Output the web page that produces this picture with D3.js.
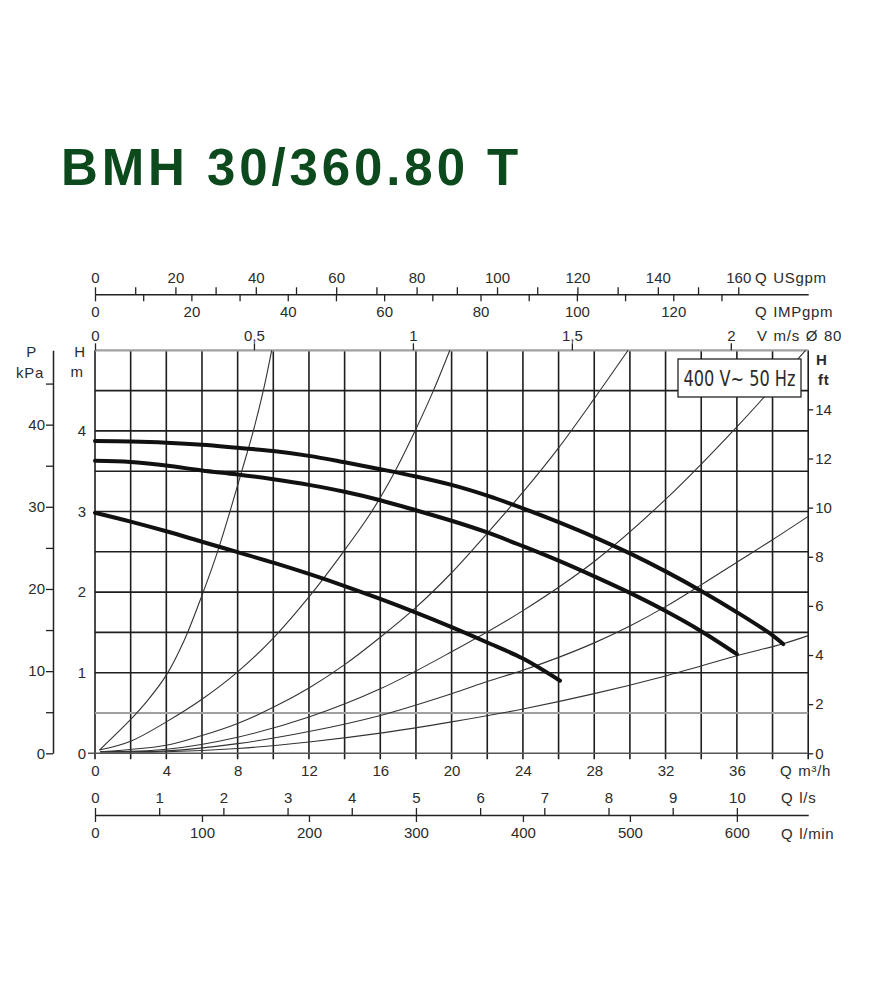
<!DOCTYPE html>
<html lang="en">
<head>
<meta charset="UTF-8">
<title>BMH 30/360.80 T</title>
<script src="https://cdnjs.cloudflare.com/ajax/libs/d3/7.8.5/d3.min.js"></script>
<style>
    body { margin: 0; background: #fff; }
    svg text { font-family: "Liberation Sans", Arial, Helvetica, sans-serif; fill: #2b2b2b; }
</style>
</head>
<body>
<svg id="chart" width="885" height="1000"></svg>
<script>
// Pump curves (Q m3/h, H m)
const speed3 = [[0,3.875],[2,3.868],[4,3.853],[6,3.828],[8,3.79],[10,3.75],[12,3.69],[14,3.61],[16,3.525],
    [18,3.435],[20,3.33],[22,3.197],[24,3.04],[26,2.868],[28,2.683],[30,2.48],[32,2.257],[34,2.014],[36,1.75],[38,1.464],[38.6,1.355]];
const speed2 = [[0,3.63],[2,3.615],[4,3.57],[6,3.51],[8,3.46],[10,3.40],[12,3.33],[14,3.245],[16,3.14],
    [18,3.015],[20,2.885],[22,2.74],[24,2.57],[26,2.39],[28,2.195],[30,1.99],[32,1.765],[34,1.515],[36,1.23]];
const speed1 = [[0,2.985],[2,2.875],[4,2.755],[6,2.625],[8,2.495],[10,2.365],[12,2.225],[14,2.075],[16,1.915],
    [18,1.745],[20,1.565],[22,1.375],[24,1.175],[26.08,0.9]];

// System curves
const system1 = [[0.25,0.04],[2,0.42],[3,0.67],[4,0.97],[5,1.4],[6,1.96],[6.87,2.5],[7.57,3.0],[8.23,3.5],[8.88,4.0],[9.44,4.5],[9.91,5.0]];
const system2 = [[0.25,0.04],[2,0.15],[4,0.39],[6,0.67],[8,1.01],[10,1.43],[12,1.94],[13.93,2.5],[15.52,3.0],[16.83,3.5],
    [17.95,4.0],[18.98,4.5],[19.9,5.0]];
const system3 = [[0.3,0.02],[4,0.1],[6,0.22],[8,0.37],[10,0.57],[12,0.81],[14,1.1],[16,1.44],[18,1.81],[20,2.24],
    [22,2.73],[24,3.24],[26,3.79],[28,4.4],[29.9,5.0]];
const system4 = [[0.3,0.02],[4,0.05],[8,0.2],[12,0.45],[16,0.8],[20,1.26],[24,1.77],[28,2.38],[32,3.15],[36,4.05],[39.85,5.0]];
const system5 = [[0.3,0.02],[4,0.03],[8,0.12],[12,0.27],[16,0.47],[20,0.74],[22,0.89],[24,1.03],[26,1.19],[28,1.37],
    [30,1.58],[32,1.82],[34,2.09],[36,2.37],[38,2.65],[40,2.94]];
const system6 = [[0.3,0.02],[4,0.02],[8,0.06],[12,0.14],[16,0.25],[20,0.39],[24,0.55],[28,0.74],[32,0.96],[36,1.21],[38.6,1.36],[40,1.46]];

// Grid and tick values
const gridQ = [0,2,4,6,8,10,12,14,16,18,20,22,24,26,28,30,32,34,36,38,40];
const gridH = [0,0.5,1,1.5,2,2.5,3,3.5,4,4.5,5];
const greyH = [0.5,5];
const m3hTicks = [0,4,8,12,16,20,24,28,32,36];
const lsTicks = [0,1,2,3,4,5,6,7,8,9,10];
const lminTicks = [0,100,200,300,400,500,600];
const usgpmTicks = [0,10,20,30,40,50,60,70,80,90,100,110,120,130,140,150,160];
const impTicks = [0,10,20,30,40,50,60,70,80,90,100,110,120,130];
const velocityTicks = [0,0.5,1,1.5,2];
const kpaTicks = [0,5,10,15,20,25,30,35,40,45];
const headTicks = [0,1,2,3,4];
const ftTicks = [0,2,4,6,8,10,12,14];

// unit conversions as printed on the sheet
const US_PER_M3H = 4.435, IMP_PER_M3H = 3.70, M3H_PER_MS = 17.83, M3H_PER_LS = 3.6;
const KPA_PER_M = 9.81, M_PER_FT = 0.3048, QMAX = 40, HMAX = 5;

const svg = d3.select("#chart");
svg.append("rect").attr("width", 885).attr("height", 1000).attr("fill", "#fff");

const x = d3.scaleLinear().domain([0, QMAX]).range([95, 808.2]);
const y = d3.scaleLinear().domain([0, HMAX]).range([753.3, 350.3]);

// title
svg.append("text")
    .attr("x", 61).attr("y", 185)
    .attr("font-size", 51).attr("font-weight", "bold")
    .attr("letter-spacing", 3.9)
    .style("fill", "#0c4a1e")
    .text("BMH 30/360.80 T");

// grid
const grid = svg.append("g");
grid.selectAll("line.v").data(gridQ).enter().append("line")
    .attr("x1", d => x(d)).attr("x2", d => x(d))
    .attr("y1", y(HMAX)).attr("y2", y(0) + 6)
    .attr("stroke", "#1e1e1e").attr("stroke-width", 1.6);
grid.selectAll("line.h").data(gridH).enter().append("line")
    .attr("x1", d => d === 0 ? x(0) - 7 : x(0)).attr("x2", x(QMAX))
    .attr("y1", d => y(d)).attr("y2", d => y(d))
    .attr("stroke", d => greyH.includes(d) ? "#a0a0a0" : (d === 0 ? "#555" : "#1e1e1e"))
    .attr("stroke-width", d => greyH.includes(d) ? 2.2 : 1.6);

const line = d3.line().x(d => x(d[0])).y(d => y(d[1])).curve(d3.curveCatmullRom.alpha(0.5));

// system curves
svg.append("g").selectAll("path")
    .data([system1, system2, system3, system4, system5, system6])
    .enter().append("path")
    .attr("d", line)
    .attr("fill", "none").attr("stroke", "#333").attr("stroke-width", 1.1);

// pump curves
svg.append("g").selectAll("path")
    .data([speed3, speed2, speed1])
    .enter().append("path")
    .attr("d", line)
    .attr("fill", "none").attr("stroke", "#111").attr("stroke-width", 4)
    .attr("stroke-linecap", "round");

// voltage box
svg.append("rect").attr("x", 678).attr("y", 359).attr("width", 123).attr("height", 38)
    .attr("fill", "#fff").attr("stroke", "#222").attr("stroke-width", 1.3);
svg.append("text").attr("x", 739.5).attr("y", 386)
    .attr("text-anchor", "middle").attr("font-size", 21)
    .attr("textLength", 112).attr("lengthAdjust", "spacingAndGlyphs")
    .style("font-family", "'Liberation Sans Narrow', 'DejaVu Sans Condensed', Arial, sans-serif")
    .text("400 V~ 50 Hz");

function styleAxis(g, keepDomain) {
    g.attr("font-size", 15);
    if (keepDomain) g.select(".domain").attr("stroke", "#222").attr("stroke-width", 1.5);
    else g.select(".domain").remove();
    g.selectAll(".tick line").attr("stroke", "#222").attr("stroke-width", 1.3);
}

// top axes
const usScale = d3.scaleLinear().domain([0, QMAX * US_PER_M3H]).range(x.range());
svg.append("g").attr("transform", "translate(0,294.3)")
    .call(d3.axisTop(usScale).tickValues(usgpmTicks).tickSize(7).tickSizeOuter(0).tickPadding(4)
        .tickFormat(d => d % 20 === 0 ? d : ""))
    .call(g => styleAxis(g, true));

const impScale = d3.scaleLinear().domain([0, QMAX * IMP_PER_M3H]).range(x.range());
svg.append("g").attr("transform", "translate(0,294.3)")
    .call(d3.axisBottom(impScale).tickValues(impTicks).tickSize(7).tickSizeOuter(0).tickPadding(5)
        .tickFormat(d => d % 20 === 0 ? d : ""))
    .call(g => styleAxis(g, false));

const velScale = d3.scaleLinear().domain([0, QMAX / M3H_PER_MS]).range(x.range());
svg.append("g").attr("transform", `translate(0,${y(HMAX)})`)
    .call(d3.axisTop(velScale).tickValues(velocityTicks).tickSize(7).tickPadding(2)
        .tickFormat(d => String(d).replace(".", ",")))
    .call(g => styleAxis(g, false));

// bottom axes
svg.append("g").attr("transform", `translate(0,${y(0)})`)
    .call(d3.axisBottom(x).tickValues(m3hTicks).tickSize(0).tickPadding(12))
    .call(g => styleAxis(g, false));

const lsScale = d3.scaleLinear().domain([0, QMAX / M3H_PER_LS]).range(x.range());
svg.append("g").attr("transform", "translate(0,815)")
    .call(d3.axisTop(lsScale).tickValues(lsTicks).tickSize(7).tickSizeOuter(0).tickPadding(5))
    .call(g => styleAxis(g, true));

const lminScale = d3.scaleLinear().domain([0, QMAX / M3H_PER_LS * 60]).range(x.range());
svg.append("g").attr("transform", "translate(0,815)")
    .call(d3.axisBottom(lminScale).tickValues(lminTicks).tickSize(7).tickPadding(5))
    .call(g => styleAxis(g, false));

// left axes
const kpaScale = d3.scaleLinear().domain([0, HMAX * KPA_PER_M]).range(y.range());
svg.append("g").attr("transform", "translate(53,0)")
    .call(d3.axisLeft(kpaScale).tickValues(kpaTicks).tickSize(7).tickSizeOuter(0).tickPadding(1)
        .tickFormat(d => d % 10 === 0 ? d : ""))
    .call(g => styleAxis(g, true));

svg.append("g").attr("transform", `translate(${x(0)},0)`)
    .call(d3.axisLeft(y).tickValues(headTicks).tickSize(0).tickPadding(9).tickFormat(d => String(d)))
    .call(g => styleAxis(g, false));

// right axis
const ftScale = d3.scaleLinear().domain([0, HMAX / M_PER_FT]).range(y.range());
svg.append("g").attr("transform", `translate(${x(QMAX)},0)`)
    .call(d3.axisRight(ftScale).tickValues(ftTicks).tickSize(5).tickPadding(2))
    .call(g => styleAxis(g, false));

// unit labels
const labels = [
    {t: "P", x: 31.5, y: 357, a: "middle"},
    {t: "kPa", x: 30, y: 378, a: "middle"},
    {t: "H", x: 80, y: 357, a: "middle"},
    {t: "m", x: 77, y: 377, a: "middle"},
    {t: "H", x: 816, y: 365, a: "start", b: true},
    {t: "ft", x: 818, y: 385, a: "start", b: true},
    {t: "Q USgpm", x: 755, y: 283, a: "start"},
    {t: "Q IMPgpm", x: 755, y: 317, a: "start"},
    {t: "V m/s Ø 80", x: 757, y: 341, a: "start"},
    {t: "Q m³/h", x: 780, y: 776, a: "start"},
    {t: "Q l/s", x: 781, y: 803, a: "start"},
    {t: "Q l/min", x: 781, y: 839, a: "start"}
];
svg.append("g").selectAll("text").data(labels).enter().append("text")
    .attr("x", d => d.x).attr("y", d => d.y)
    .attr("text-anchor", d => d.a)
    .attr("font-size", 15)
    .attr("font-weight", d => d.b ? "bold" : null)
    .attr("letter-spacing", 0.7)
    .attr("word-spacing", 1)
    .text(d => d.t);
</script>
</body>
</html>
